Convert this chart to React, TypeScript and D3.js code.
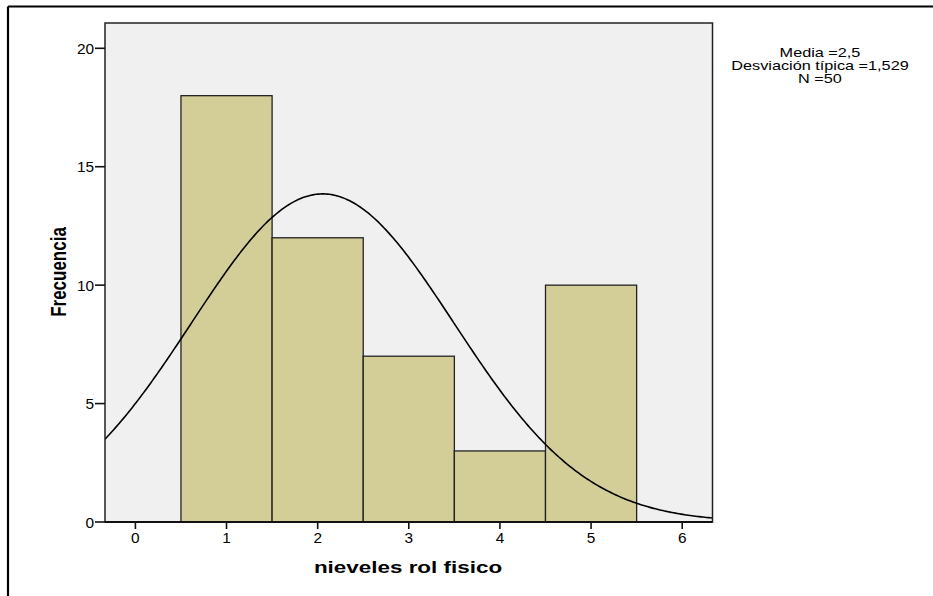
import React from 'react'
import * as d3 from 'd3'

const width = 933
const height = 596

// histogram bins (centre value) and counts
const binCenters = [1, 2, 3, 4, 5]
const counts = [18, 12, 7, 3, 10]
const xTicks = [0, 1, 2, 3, 4, 5, 6]
const yTicks = [0, 5, 10, 15, 20]
const statsLines = ['Media =2,5', 'Desviación típica =1,529', 'N =50']

// normal curve as it is drawn in the picture
const curveMean = 2.055
const curveSd = 1.44
const curveN = 50

const plot = { left: 105, top: 23, right: 712.5, bottom: 522 }

const x = d3.scaleLinear().domain([0, 6]).range([135.4, 682.2])
const y = d3.scaleLinear().domain([0, 20]).range([plot.bottom, 48.3])

const font = '"Liberation Sans", Arial, sans-serif'

// the original output is stretched horizontally, so text is too
const Txt = ({ x, y, sx, anchor, size, bold, children }: any) => (
  <g transform={`translate(${x},${y}) scale(${sx},1)`}>
    <text x={0} y={0} textAnchor={anchor} fontSize={size} fontWeight={bold ? 'bold' : 'normal'} fill="#000">
      {children}
    </text>
  </g>
)

export default function App() {
  const xs = d3.range(x.invert(plot.left), x.invert(plot.right) + 0.001, 0.02)
  const pdf = (v: number) =>
    (curveN / (curveSd * Math.sqrt(2 * Math.PI))) *
    Math.exp(-((v - curveMean) ** 2) / (2 * curveSd * curveSd))
  const line = d3
    .line<number>()
    .x((d) => x(d))
    .y((d) => y(pdf(d)))

  return (
    <svg
      width={width}
      height={height}
      style={{ position: 'absolute', left: 0, top: 0, background: '#fff' }}
      fontFamily={font}
    >
      <path d="M8,6.5 H940 M8,6.5 V600" stroke="#000" strokeWidth={2.2} fill="none" />

      <rect
        x={plot.left}
        y={plot.top}
        width={plot.right - plot.left}
        height={plot.bottom - plot.top}
        fill="#f0f0f0"
      />

      {binCenters.map((c, i) => (
        <rect
          key={i}
          x={x(c - 0.5)}
          y={y(counts[i])}
          width={x(c + 0.5) - x(c - 0.5)}
          height={plot.bottom - y(counts[i])}
          fill="#d3ce98"
          stroke="#222"
          strokeWidth={1.3}
        />
      ))}

      <clipPath id="plotclip">
        <rect x={plot.left} y={plot.top} width={plot.right - plot.left} height={plot.bottom - plot.top} />
      </clipPath>
      <path d={line(xs) || ''} fill="none" stroke="#000" strokeWidth={1.6} clipPath="url(#plotclip)" />

      <rect
        x={plot.left}
        y={plot.top}
        width={plot.right - plot.left}
        height={plot.bottom - plot.top}
        fill="none"
        stroke="#222"
        strokeWidth={1.5}
      />
      <line x1={plot.left} x2={plot.right} y1={plot.bottom} y2={plot.bottom} stroke="#111" strokeWidth={2} />

      {yTicks.map((t) => (
        <g key={t}>
          <line x1={plot.left - 10} x2={plot.left} y1={y(t)} y2={y(t)} stroke="#111" strokeWidth={1.6} />
          <Txt x={plot.left - 11} y={y(t) + 5.5} sx={1.1} anchor="end" size={14}>
            {t}
          </Txt>
        </g>
      ))}

      {xTicks.map((t) => (
        <g key={t}>
          <line x1={x(t)} x2={x(t)} y1={plot.bottom} y2={plot.bottom + 7} stroke="#111" strokeWidth={1.6} />
          <Txt x={x(t)} y={plot.bottom + 21} sx={1.1} anchor="middle" size={14}>
            {t}
          </Txt>
        </g>
      ))}

      <g transform="translate(66,272) scale(1.3,1) rotate(-90)">
        <text x={0} y={0} textAnchor="middle" fontSize={17} fontWeight="bold" fill="#000">
          Frecuencia
        </text>
      </g>
      <Txt x={408} y={573} sx={1.32} anchor="middle" size={17} bold>
        nieveles rol fisico
      </Txt>

      {statsLines.map((s, i) => (
        <Txt key={i} x={820} y={57 + i * 13} sx={1.25} anchor="middle" size={13}>
          {s}
        </Txt>
      ))}
    </svg>
  )
}
